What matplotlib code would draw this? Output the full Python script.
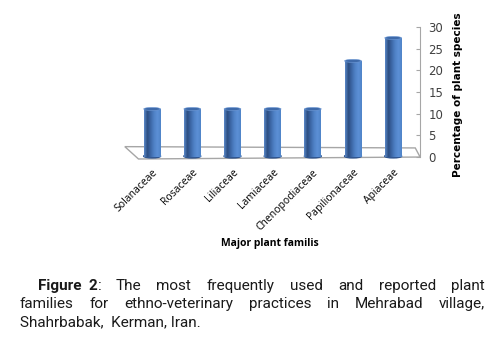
import numpy as np
import matplotlib
matplotlib.use('Agg')
from matplotlib import pyplot as plt
from matplotlib.patches import Ellipse, Polygon
from matplotlib.colors import LinearSegmentedColormap

families = ['Solanaceae', 'Rosaceae', 'Liliaceae', 'Lamiaceae',
            'Chenopodiaceae', 'Papilionaceae', 'Apiaceae']
percent = [11.1, 11.1, 11.1, 11.1, 11.1, 22.2, 27.5]
yticks = [0, 5, 10, 15, 20, 25, 30]

caption_lines = [
    ['The', 'most', 'frequently', 'used', 'and', 'reported', 'plant'],
    ['families', 'for', 'ethno-veterinary', 'practices', 'in', 'Mehrabad', 'village,'],
]
caption_last = 'Shahrbabak,  Kerman, Iran.'

fig = plt.figure(figsize=(5.01, 3.39), dpi=100)
ax = fig.add_axes([0.2395, 0.524, 0.599, 0.396])

bar_w = 0.42
x = np.arange(len(families))
bars = ax.bar(x, percent, width=bar_w, color='#4a7bc0', zorder=3)

# cylinder shading: gradient across each bar
cyl = LinearSegmentedColormap.from_list(
    'cyl', ['#5a88c8', '#2c4d80', '#3d68a8', '#4f82c6', '#5c90d6', '#4f84c8'])
grad = np.linspace(0, 1, 64).reshape(1, -1)
for b, h in zip(bars, percent):
    x0 = b.get_x()
    im = ax.imshow(grad, cmap=cyl, aspect='auto', zorder=4,
                   extent=[x0, x0 + bar_w, 0, h], interpolation='bilinear')
    im.set_clip_path(b)
    ax.add_patch(Ellipse((x0 + bar_w / 2, 0.2), bar_w, 0.8, color='#2f5590', zorder=3.5))
    ax.add_patch(Ellipse((x0 + bar_w / 2, h), bar_w, 0.7,
                         facecolor='#3e6aaa', edgecolor='#6f9ad6', lw=0.4, zorder=5))

# floor of the 3d plot
floor = Polygon([[-0.68, 2.4], [6.55, 2.1], [6.67, 0], [-0.34, -0.45]],
                closed=True, facecolor='white', edgecolor='#a6a6a6', lw=1.0, zorder=2)
ax.add_patch(floor)

ax.set_xlim(-0.8, 6.67)
ax.set_ylim(-1, 30)
for s in ['left', 'top', 'bottom']:
    ax.spines[s].set_visible(False)
ax.spines['right'].set_bounds(0, 30)
ax.spines['right'].set_color('#a6a6a6')
ax.yaxis.tick_right()
ax.set_yticks(yticks)
ax.tick_params(axis='y', direction='in', length=3, color='#a6a6a6',
               labelsize=8.5, labelcolor='#404040', pad=6)
ax.yaxis.set_label_position('right')
ax.set_ylabel('Percentage of plant species', fontsize=7.5, fontweight='bold',
              family='DejaVu Sans', labelpad=7)
ax.set_xticks(x)
ax.set_xticklabels(families, rotation=45, ha='right', rotation_mode='anchor',
                   fontsize=7.5, family='Open Sans')
ax.tick_params(axis='x', length=0, pad=4)
ax.set_xlabel('Major plant familis', fontsize=7.5, fontweight='bold',
              family='Open Sans', labelpad=4)

# justified caption
cap_font = dict(family='Roboto', fontsize=11, color='#1a1a1a', va='baseline')
fig.canvas.draw()
r = fig.canvas.get_renderer()
W = fig.bbox.width
H = fig.bbox.height
right_px = 485
line_y = [290, 308]

t = fig.text(38 / W, 1 - 290 / H, 'Figure  2', fontweight='bold', **cap_font)
fig_w = t.get_window_extent(r).width
c = fig.text((38 + fig_w) / W, 1 - 290 / H, ':', **cap_font)
first_start = 38 + fig_w + c.get_window_extent(r).width + 14

for li, words in enumerate(caption_lines):
    x0 = first_start if li == 0 else 20
    y = 1 - line_y[li] / H
    txts = [fig.text(0, y, w, **cap_font) for w in words]
    widths = [tt.get_window_extent(r).width for tt in txts]
    gap = (right_px - x0 - sum(widths)) / (len(words) - 1)
    pos = x0
    for tt, wd in zip(txts, widths):
        tt.set_x(pos / W)
        pos += wd + gap

fig.text(20 / W, 1 - 326 / H, caption_last, **cap_font)

fig.savefig('out.png', dpi=100)
